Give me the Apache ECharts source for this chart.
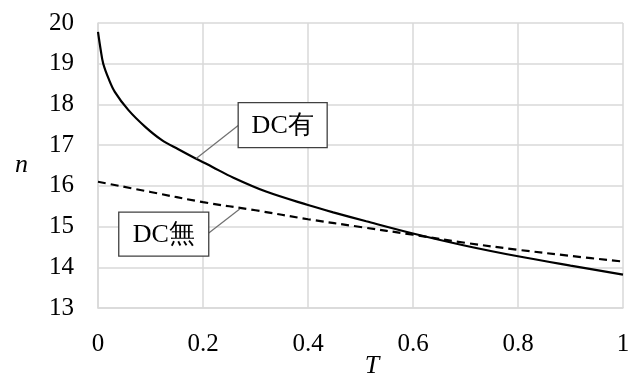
<!DOCTYPE html>
<html>
<head>
<meta charset="utf-8">
<script src="https://cdn.jsdelivr.net/npm/echarts@6/dist/echarts.min.js"></script>
<style>
html,body{margin:0;padding:0;background:#fff;}
#chart{width:636px;height:376px;}
</style>
</head>
<body>
<div id="chart"></div>
<script>
// Data
const tWith = [0, 0.005, 0.01, 0.02, 0.032, 0.058, 0.09, 0.121, 0.153, 0.185, 0.217, 0.258, 0.32, 0.4, 0.448, 0.511, 0.6, 0.7, 0.8, 0.9, 1.0];
const nWith = [19.78, 19.35, 19.0, 18.64, 18.31, 17.86, 17.45, 17.13, 16.90, 16.68, 16.47, 16.20, 15.86, 15.53, 15.35, 15.13, 14.83, 14.53, 14.27, 14.04, 13.82];
const tWithout = [0, 0.1, 0.2, 0.3, 0.4, 0.5, 0.6, 0.7, 0.8, 0.9, 1.0];
const nWithout = [16.10, 15.85, 15.60, 15.40, 15.18, 14.99, 14.80, 14.60, 14.43, 14.28, 14.14];
const seriesNames = ['DC有', 'DC無'];
const xTicks = [0, 0.2, 0.4, 0.6, 0.8, 1];
const yTicks = [13, 14, 15, 16, 17, 18, 19, 20];
// Label anchor points (data coords on each curve)
const anchorWith = [0.187, 16.67];
const anchorWithout = [0.27, 15.43];

const serif = "Liberation Serif";
const chart = echarts.init(document.getElementById('chart'), null, {renderer: 'canvas'});
const gridColor = '#d9d9d9';

const option = {
  animation: false,
  backgroundColor: '#fff',
  grid: {left: 98, right: 13, top: 23, bottom: 68, containLabel: false, outerBoundsMode: 'none'},
  xAxis: {
    type: 'value', min: 0, max: 1, interval: 0.2,
    name: 'T', nameLocation: 'middle', nameGap: 45, nameMoveOverlap: false,
    nameTextStyle: {fontFamily: serif, fontStyle: 'italic', fontSize: 26, color: '#000', padding: [0, 0, 0, 23]},
    axisLine: {show: true, lineStyle: {color: gridColor, width: 1.5}},
    axisTick: {show: false},
    splitLine: {show: true, lineStyle: {color: gridColor, width: 1.5}},
    axisLabel: {fontFamily: serif, fontSize: 25, color: '#000', margin: 24,
      formatter: v => xTicks.includes(+v.toFixed(1)) ? String(+v.toFixed(1)) : ''}
  },
  yAxis: {
    type: 'value', min: 13, max: 20, interval: 1,
    name: 'n', nameLocation: 'middle', nameGap: 70, nameRotate: 0, nameMoveOverlap: false,
    nameTextStyle: {fontFamily: serif, fontStyle: 'italic', fontSize: 26, color: '#000', padding: [28, 0, 0, 0]},
    axisLine: {show: true, lineStyle: {color: gridColor, width: 1.5}},
    axisTick: {show: false},
    splitLine: {show: true, lineStyle: {color: gridColor, width: 1.5}},
    axisLabel: {fontFamily: serif, fontSize: 25, color: '#000', margin: 24,
      formatter: v => yTicks.includes(v) ? String(v) : ''}
  },
  series: [
    {
      name: seriesNames[0], type: 'line', showSymbol: false, smooth: 0.35,
      data: tWith.map((t, i) => [t, nWith[i]]),
      lineStyle: {color: '#000', width: 2.2}
    },
    {
      name: seriesNames[1], type: 'line', showSymbol: false, smooth: 0.35,
      data: tWithout.map((t, i) => [t, nWithout[i]]),
      lineStyle: {color: '#000', width: 2.2, type: [8, 5]}
    }
  ]
};
chart.setOption(option);

function callout(anchor, text, boxX, boxY, w, h, fromX, fromY) {
  const p = chart.convertToPixel({gridIndex: 0}, anchor);
  const bx = p[0] + boxX, by = p[1] + boxY;
  return [
    {type: 'line', z: 50, shape: {x1: p[0], y1: p[1], x2: p[0] + fromX, y2: p[1] + fromY},
     style: {stroke: '#707070', lineWidth: 1.2}},
    {type: 'rect', z: 51, shape: {x: bx, y: by, width: w, height: h},
     style: {fill: '#fff', stroke: '#404040', lineWidth: 1.3}},
    {type: 'text', z: 52, x: bx + w / 2, y: by + h / 2 + 1,
     style: {text: text, fill: '#000', fontSize: 26, fontFamily: serif, align: 'center', verticalAlign: 'middle'}}
  ];
}
chart.setOption({
  graphic: [].concat(
    callout(anchorWith, seriesNames[0], 42, -56, 89, 45, 42, -33),
    callout(anchorWithout, seriesNames[1], -121, 3, 90, 44, -31, 24)
  )
});
</script>
</body>
</html>
